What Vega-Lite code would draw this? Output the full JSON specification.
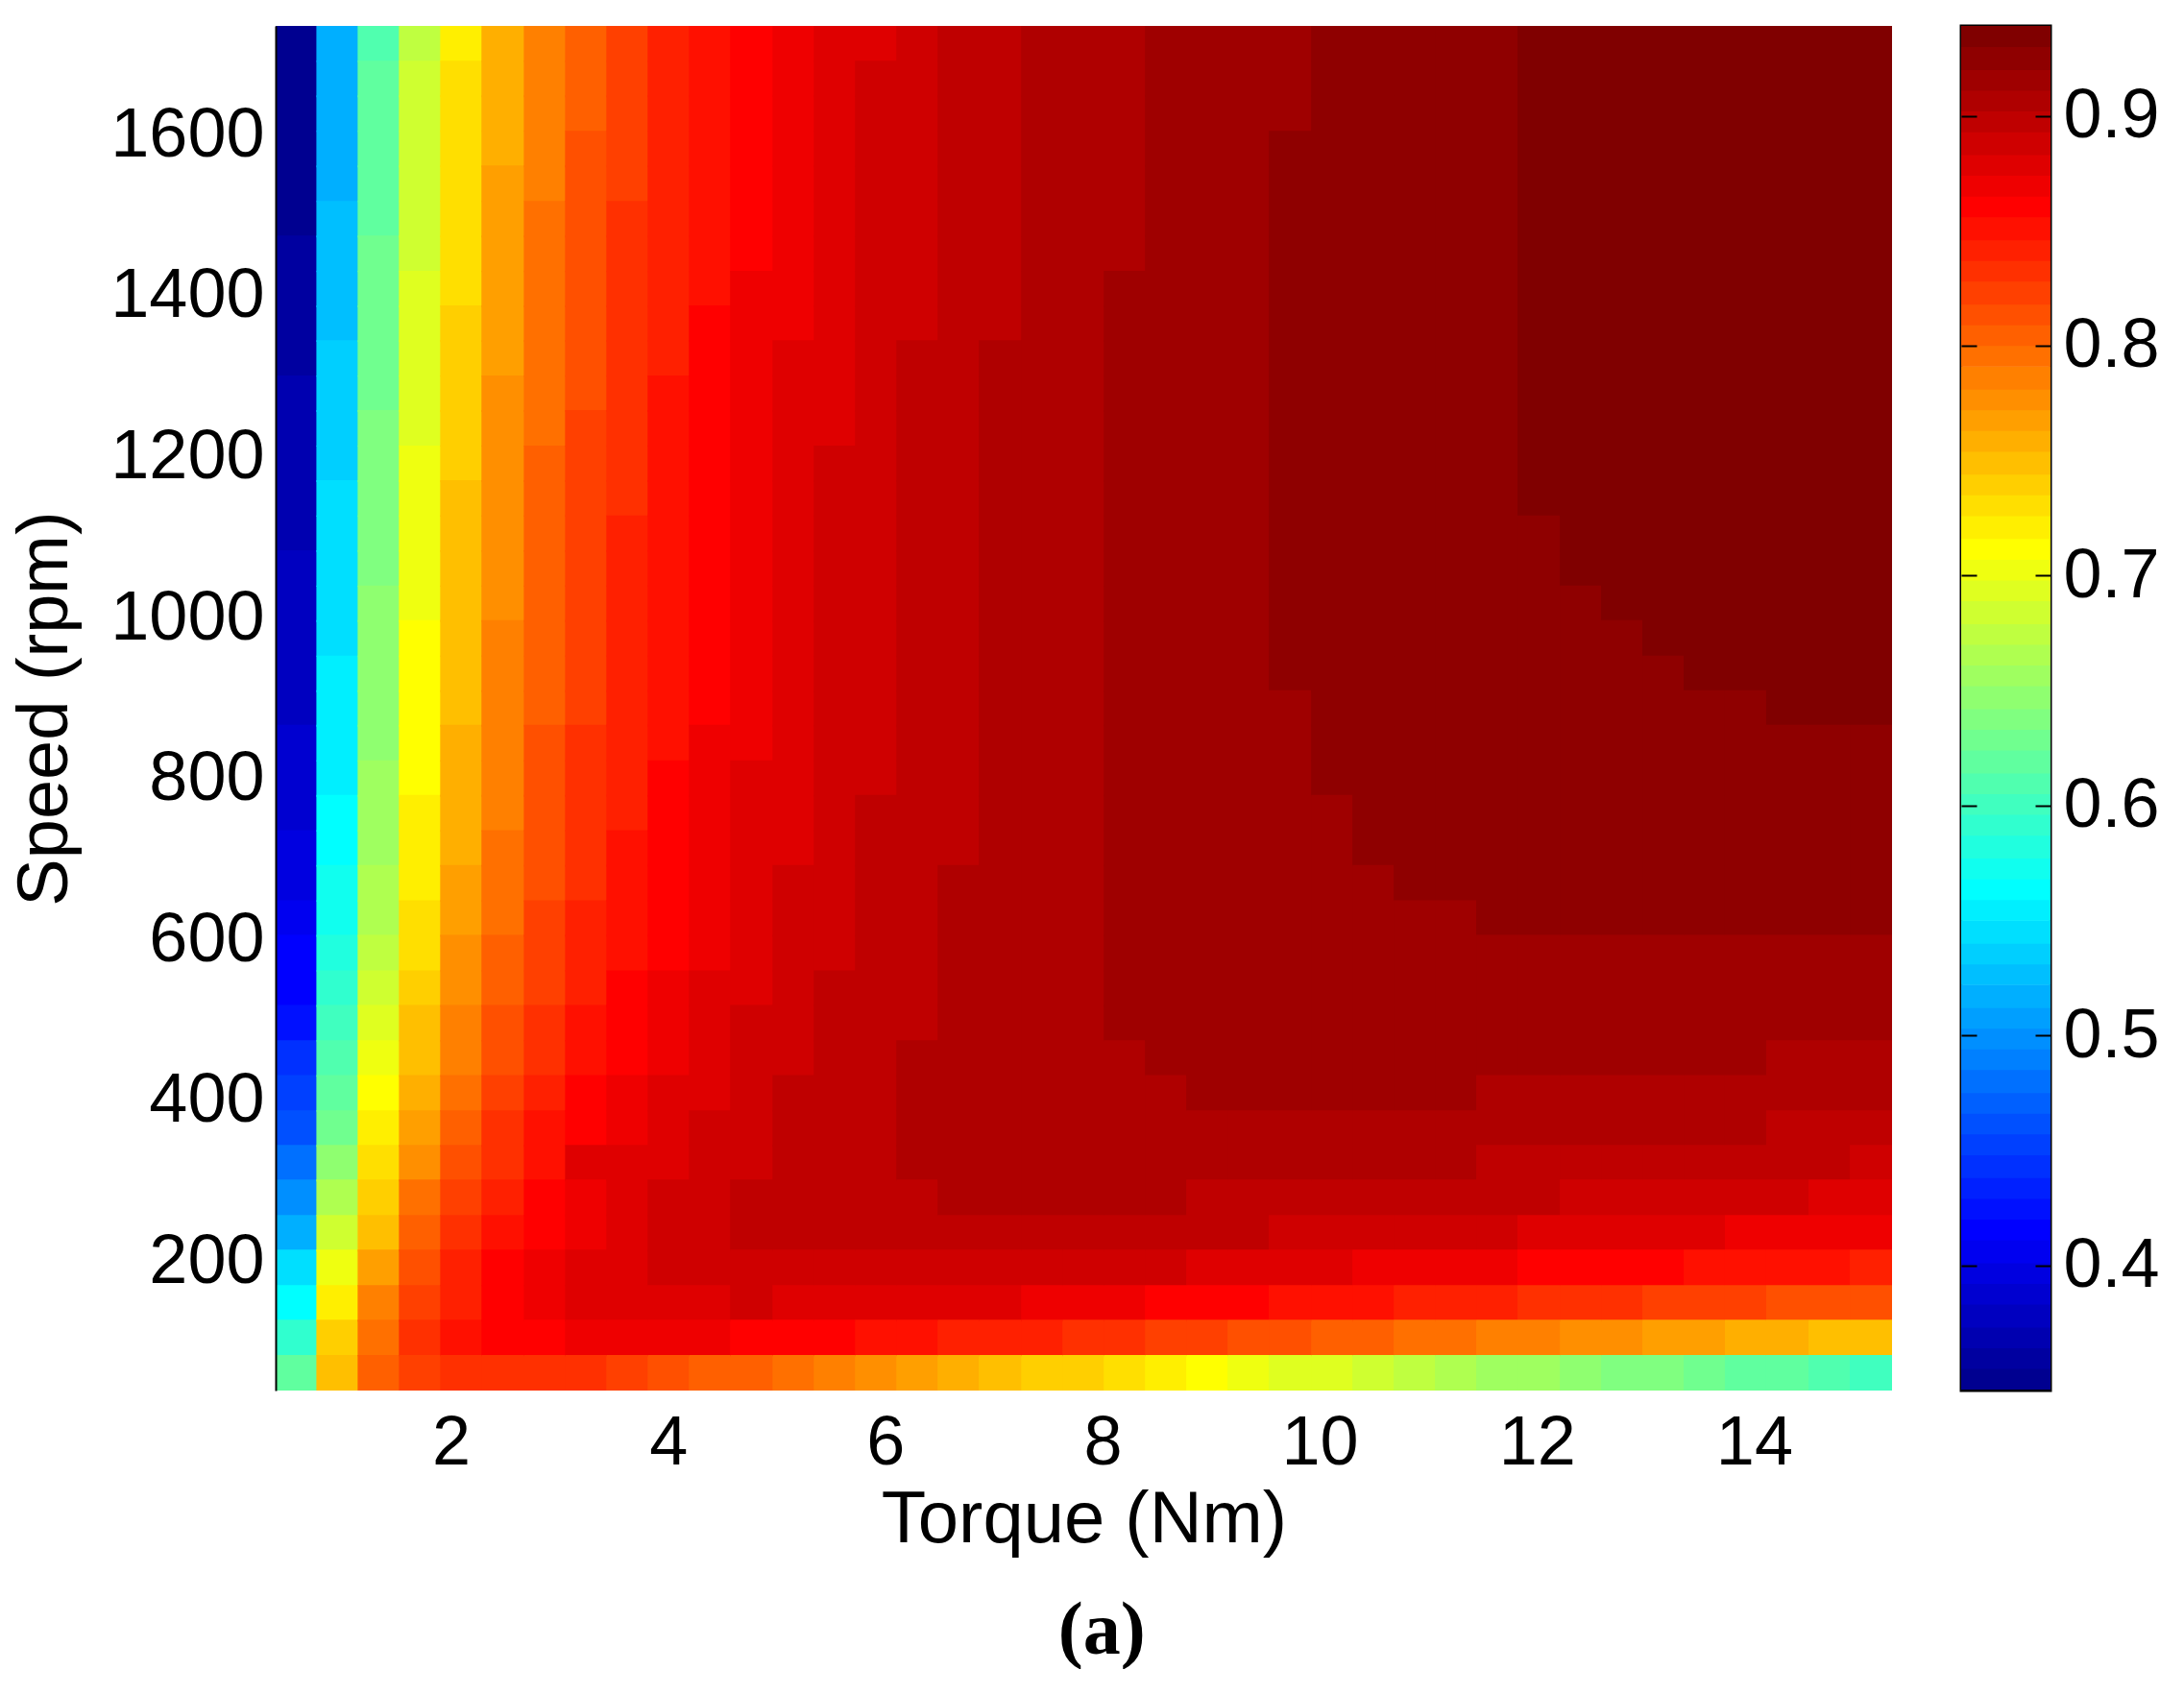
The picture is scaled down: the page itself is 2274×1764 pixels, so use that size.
{"$schema":"https://vega.github.io/schema/vega-lite/v6.json","background":"white","padding":{"left":10,"top":23,"right":0,"bottom":0},"spacing":69,"config":{"view":{"stroke":null},"axis":{"grid":false,"ticks":false,"labelFont":"Liberation Sans","titleFont":"Liberation Sans","labelFontSize":72,"titleFontSize":74,"titleFontWeight":"normal","labelColor":"black","titleColor":"black","labelLimit":400}},"title":{"text":"(a)","orient":"bottom","anchor":"start","font":"Liberation Serif","fontWeight":"bold","fontSize":78,"offset":40,"dx":1091,"color":"black"},"datasets":{"cells":[
{"t":0.58,"s":1713,"e":0.351},{"t":0.58,"s":1669,"e":0.351},{"t":0.58,"s":1626,"e":0.351},{"t":0.58,"s":1582,"e":0.351},{"t":0.58,"s":1539,"e":0.351},{"t":0.58,"s":1495,"e":0.351},{"t":0.58,"s":1452,"e":0.36},{"t":0.58,"s":1408,"e":0.36},{"t":0.58,"s":1365,"e":0.36},{"t":0.58,"s":1322,"e":0.36},{"t":0.58,"s":1278,"e":0.369},{"t":0.58,"s":1235,"e":0.369},{"t":0.58,"s":1191,"e":0.369},{"t":0.58,"s":1148,"e":0.369},{"t":0.58,"s":1104,"e":0.369},{"t":0.58,"s":1061,"e":0.378},{"t":0.58,"s":1017,"e":0.378},{"t":0.58,"s":974,"e":0.378},{"t":0.58,"s":930,"e":0.378},{"t":0.58,"s":887,"e":0.378},{"t":0.58,"s":844,"e":0.388},{"t":0.58,"s":800,"e":0.388},{"t":0.58,"s":757,"e":0.388},{"t":0.58,"s":713,"e":0.397},{"t":0.58,"s":670,"e":0.397},{"t":0.58,"s":626,"e":0.406},{"t":0.58,"s":583,"e":0.416},{"t":0.58,"s":539,"e":0.416},{"t":0.58,"s":496,"e":0.425},{"t":0.58,"s":452,"e":0.443},{"t":0.58,"s":409,"e":0.453},{"t":0.58,"s":365,"e":0.462},{"t":0.58,"s":322,"e":0.48},{"t":0.58,"s":279,"e":0.499},{"t":0.58,"s":235,"e":0.517},{"t":0.58,"s":192,"e":0.545},{"t":0.58,"s":148,"e":0.564},{"t":0.58,"s":105,"e":0.592},{"t":0.58,"s":61,"e":0.619},
{"t":0.96,"s":1713,"e":0.517},{"t":0.96,"s":1669,"e":0.517},{"t":0.96,"s":1626,"e":0.517},{"t":0.96,"s":1582,"e":0.517},{"t":0.96,"s":1539,"e":0.517},{"t":0.96,"s":1495,"e":0.527},{"t":0.96,"s":1452,"e":0.527},{"t":0.96,"s":1408,"e":0.527},{"t":0.96,"s":1365,"e":0.527},{"t":0.96,"s":1322,"e":0.536},{"t":0.96,"s":1278,"e":0.536},{"t":0.96,"s":1235,"e":0.536},{"t":0.96,"s":1191,"e":0.536},{"t":0.96,"s":1148,"e":0.545},{"t":0.96,"s":1104,"e":0.545},{"t":0.96,"s":1061,"e":0.545},{"t":0.96,"s":1017,"e":0.545},{"t":0.96,"s":974,"e":0.545},{"t":0.96,"s":930,"e":0.555},{"t":0.96,"s":887,"e":0.555},{"t":0.96,"s":844,"e":0.555},{"t":0.96,"s":800,"e":0.555},{"t":0.96,"s":757,"e":0.564},{"t":0.96,"s":713,"e":0.564},{"t":0.96,"s":670,"e":0.573},{"t":0.96,"s":626,"e":0.573},{"t":0.96,"s":583,"e":0.582},{"t":0.96,"s":539,"e":0.592},{"t":0.96,"s":496,"e":0.601},{"t":0.96,"s":452,"e":0.61},{"t":0.96,"s":409,"e":0.619},{"t":0.96,"s":365,"e":0.629},{"t":0.96,"s":322,"e":0.647},{"t":0.96,"s":279,"e":0.666},{"t":0.96,"s":235,"e":0.684},{"t":0.96,"s":192,"e":0.703},{"t":0.96,"s":148,"e":0.721},{"t":0.96,"s":105,"e":0.74},{"t":0.96,"s":61,"e":0.749},
{"t":1.34,"s":1713,"e":0.61},{"t":1.34,"s":1669,"e":0.619},{"t":1.34,"s":1626,"e":0.619},{"t":1.34,"s":1582,"e":0.619},{"t":1.34,"s":1539,"e":0.619},{"t":1.34,"s":1495,"e":0.619},{"t":1.34,"s":1452,"e":0.629},{"t":1.34,"s":1408,"e":0.629},{"t":1.34,"s":1365,"e":0.629},{"t":1.34,"s":1322,"e":0.629},{"t":1.34,"s":1278,"e":0.629},{"t":1.34,"s":1235,"e":0.638},{"t":1.34,"s":1191,"e":0.638},{"t":1.34,"s":1148,"e":0.638},{"t":1.34,"s":1104,"e":0.638},{"t":1.34,"s":1061,"e":0.638},{"t":1.34,"s":1017,"e":0.647},{"t":1.34,"s":974,"e":0.647},{"t":1.34,"s":930,"e":0.647},{"t":1.34,"s":887,"e":0.647},{"t":1.34,"s":844,"e":0.647},{"t":1.34,"s":800,"e":0.657},{"t":1.34,"s":757,"e":0.657},{"t":1.34,"s":713,"e":0.657},{"t":1.34,"s":670,"e":0.666},{"t":1.34,"s":626,"e":0.666},{"t":1.34,"s":583,"e":0.675},{"t":1.34,"s":539,"e":0.684},{"t":1.34,"s":496,"e":0.694},{"t":1.34,"s":452,"e":0.703},{"t":1.34,"s":409,"e":0.712},{"t":1.34,"s":365,"e":0.721},{"t":1.34,"s":322,"e":0.731},{"t":1.34,"s":279,"e":0.74},{"t":1.34,"s":235,"e":0.749},{"t":1.34,"s":192,"e":0.768},{"t":1.34,"s":148,"e":0.786},{"t":1.34,"s":105,"e":0.796},{"t":1.34,"s":61,"e":0.805},
{"t":1.72,"s":1713,"e":0.675},{"t":1.72,"s":1669,"e":0.684},{"t":1.72,"s":1626,"e":0.684},{"t":1.72,"s":1582,"e":0.684},{"t":1.72,"s":1539,"e":0.684},{"t":1.72,"s":1495,"e":0.684},{"t":1.72,"s":1452,"e":0.684},{"t":1.72,"s":1408,"e":0.694},{"t":1.72,"s":1365,"e":0.694},{"t":1.72,"s":1322,"e":0.694},{"t":1.72,"s":1278,"e":0.694},{"t":1.72,"s":1235,"e":0.694},{"t":1.72,"s":1191,"e":0.703},{"t":1.72,"s":1148,"e":0.703},{"t":1.72,"s":1104,"e":0.703},{"t":1.72,"s":1061,"e":0.703},{"t":1.72,"s":1017,"e":0.703},{"t":1.72,"s":974,"e":0.712},{"t":1.72,"s":930,"e":0.712},{"t":1.72,"s":887,"e":0.712},{"t":1.72,"s":844,"e":0.712},{"t":1.72,"s":800,"e":0.712},{"t":1.72,"s":757,"e":0.721},{"t":1.72,"s":713,"e":0.721},{"t":1.72,"s":670,"e":0.721},{"t":1.72,"s":626,"e":0.731},{"t":1.72,"s":583,"e":0.731},{"t":1.72,"s":539,"e":0.74},{"t":1.72,"s":496,"e":0.749},{"t":1.72,"s":452,"e":0.749},{"t":1.72,"s":409,"e":0.759},{"t":1.72,"s":365,"e":0.768},{"t":1.72,"s":322,"e":0.777},{"t":1.72,"s":279,"e":0.796},{"t":1.72,"s":235,"e":0.805},{"t":1.72,"s":192,"e":0.814},{"t":1.72,"s":148,"e":0.823},{"t":1.72,"s":105,"e":0.833},{"t":1.72,"s":61,"e":0.823},
{"t":2.1,"s":1713,"e":0.721},{"t":2.1,"s":1669,"e":0.731},{"t":2.1,"s":1626,"e":0.731},{"t":2.1,"s":1582,"e":0.731},{"t":2.1,"s":1539,"e":0.731},{"t":2.1,"s":1495,"e":0.731},{"t":2.1,"s":1452,"e":0.731},{"t":2.1,"s":1408,"e":0.731},{"t":2.1,"s":1365,"e":0.74},{"t":2.1,"s":1322,"e":0.74},{"t":2.1,"s":1278,"e":0.74},{"t":2.1,"s":1235,"e":0.74},{"t":2.1,"s":1191,"e":0.74},{"t":2.1,"s":1148,"e":0.749},{"t":2.1,"s":1104,"e":0.749},{"t":2.1,"s":1061,"e":0.749},{"t":2.1,"s":1017,"e":0.749},{"t":2.1,"s":974,"e":0.749},{"t":2.1,"s":930,"e":0.749},{"t":2.1,"s":887,"e":0.749},{"t":2.1,"s":844,"e":0.759},{"t":2.1,"s":800,"e":0.759},{"t":2.1,"s":757,"e":0.759},{"t":2.1,"s":713,"e":0.759},{"t":2.1,"s":670,"e":0.768},{"t":2.1,"s":626,"e":0.768},{"t":2.1,"s":583,"e":0.777},{"t":2.1,"s":539,"e":0.777},{"t":2.1,"s":496,"e":0.786},{"t":2.1,"s":452,"e":0.786},{"t":2.1,"s":409,"e":0.796},{"t":2.1,"s":365,"e":0.805},{"t":2.1,"s":322,"e":0.814},{"t":2.1,"s":279,"e":0.823},{"t":2.1,"s":235,"e":0.833},{"t":2.1,"s":192,"e":0.842},{"t":2.1,"s":148,"e":0.842},{"t":2.1,"s":105,"e":0.851},{"t":2.1,"s":61,"e":0.833},
{"t":2.48,"s":1713,"e":0.759},{"t":2.48,"s":1669,"e":0.759},{"t":2.48,"s":1626,"e":0.759},{"t":2.48,"s":1582,"e":0.759},{"t":2.48,"s":1539,"e":0.768},{"t":2.48,"s":1495,"e":0.768},{"t":2.48,"s":1452,"e":0.768},{"t":2.48,"s":1408,"e":0.768},{"t":2.48,"s":1365,"e":0.768},{"t":2.48,"s":1322,"e":0.768},{"t":2.48,"s":1278,"e":0.777},{"t":2.48,"s":1235,"e":0.777},{"t":2.48,"s":1191,"e":0.777},{"t":2.48,"s":1148,"e":0.777},{"t":2.48,"s":1104,"e":0.777},{"t":2.48,"s":1061,"e":0.777},{"t":2.48,"s":1017,"e":0.777},{"t":2.48,"s":974,"e":0.786},{"t":2.48,"s":930,"e":0.786},{"t":2.48,"s":887,"e":0.786},{"t":2.48,"s":844,"e":0.786},{"t":2.48,"s":800,"e":0.786},{"t":2.48,"s":757,"e":0.786},{"t":2.48,"s":713,"e":0.796},{"t":2.48,"s":670,"e":0.796},{"t":2.48,"s":626,"e":0.796},{"t":2.48,"s":583,"e":0.805},{"t":2.48,"s":539,"e":0.805},{"t":2.48,"s":496,"e":0.814},{"t":2.48,"s":452,"e":0.814},{"t":2.48,"s":409,"e":0.823},{"t":2.48,"s":365,"e":0.833},{"t":2.48,"s":322,"e":0.833},{"t":2.48,"s":279,"e":0.842},{"t":2.48,"s":235,"e":0.851},{"t":2.48,"s":192,"e":0.861},{"t":2.48,"s":148,"e":0.861},{"t":2.48,"s":105,"e":0.861},{"t":2.48,"s":61,"e":0.833},
{"t":2.87,"s":1713,"e":0.786},{"t":2.87,"s":1669,"e":0.786},{"t":2.87,"s":1626,"e":0.786},{"t":2.87,"s":1582,"e":0.786},{"t":2.87,"s":1539,"e":0.786},{"t":2.87,"s":1495,"e":0.796},{"t":2.87,"s":1452,"e":0.796},{"t":2.87,"s":1408,"e":0.796},{"t":2.87,"s":1365,"e":0.796},{"t":2.87,"s":1322,"e":0.796},{"t":2.87,"s":1278,"e":0.796},{"t":2.87,"s":1235,"e":0.796},{"t":2.87,"s":1191,"e":0.805},{"t":2.87,"s":1148,"e":0.805},{"t":2.87,"s":1104,"e":0.805},{"t":2.87,"s":1061,"e":0.805},{"t":2.87,"s":1017,"e":0.805},{"t":2.87,"s":974,"e":0.805},{"t":2.87,"s":930,"e":0.805},{"t":2.87,"s":887,"e":0.805},{"t":2.87,"s":844,"e":0.814},{"t":2.87,"s":800,"e":0.814},{"t":2.87,"s":757,"e":0.814},{"t":2.87,"s":713,"e":0.814},{"t":2.87,"s":670,"e":0.814},{"t":2.87,"s":626,"e":0.823},{"t":2.87,"s":583,"e":0.823},{"t":2.87,"s":539,"e":0.823},{"t":2.87,"s":496,"e":0.833},{"t":2.87,"s":452,"e":0.833},{"t":2.87,"s":409,"e":0.842},{"t":2.87,"s":365,"e":0.851},{"t":2.87,"s":322,"e":0.851},{"t":2.87,"s":279,"e":0.861},{"t":2.87,"s":235,"e":0.861},{"t":2.87,"s":192,"e":0.87},{"t":2.87,"s":148,"e":0.87},{"t":2.87,"s":105,"e":0.861},{"t":2.87,"s":61,"e":0.833},
{"t":3.25,"s":1713,"e":0.805},{"t":3.25,"s":1669,"e":0.805},{"t":3.25,"s":1626,"e":0.805},{"t":3.25,"s":1582,"e":0.814},{"t":3.25,"s":1539,"e":0.814},{"t":3.25,"s":1495,"e":0.814},{"t":3.25,"s":1452,"e":0.814},{"t":3.25,"s":1408,"e":0.814},{"t":3.25,"s":1365,"e":0.814},{"t":3.25,"s":1322,"e":0.814},{"t":3.25,"s":1278,"e":0.814},{"t":3.25,"s":1235,"e":0.823},{"t":3.25,"s":1191,"e":0.823},{"t":3.25,"s":1148,"e":0.823},{"t":3.25,"s":1104,"e":0.823},{"t":3.25,"s":1061,"e":0.823},{"t":3.25,"s":1017,"e":0.823},{"t":3.25,"s":974,"e":0.823},{"t":3.25,"s":930,"e":0.823},{"t":3.25,"s":887,"e":0.823},{"t":3.25,"s":844,"e":0.833},{"t":3.25,"s":800,"e":0.833},{"t":3.25,"s":757,"e":0.833},{"t":3.25,"s":713,"e":0.833},{"t":3.25,"s":670,"e":0.833},{"t":3.25,"s":626,"e":0.842},{"t":3.25,"s":583,"e":0.842},{"t":3.25,"s":539,"e":0.842},{"t":3.25,"s":496,"e":0.851},{"t":3.25,"s":452,"e":0.851},{"t":3.25,"s":409,"e":0.861},{"t":3.25,"s":365,"e":0.861},{"t":3.25,"s":322,"e":0.879},{"t":3.25,"s":279,"e":0.87},{"t":3.25,"s":235,"e":0.87},{"t":3.25,"s":192,"e":0.879},{"t":3.25,"s":148,"e":0.879},{"t":3.25,"s":105,"e":0.87},{"t":3.25,"s":61,"e":0.833},
{"t":3.63,"s":1713,"e":0.823},{"t":3.63,"s":1669,"e":0.823},{"t":3.63,"s":1626,"e":0.823},{"t":3.63,"s":1582,"e":0.823},{"t":3.63,"s":1539,"e":0.823},{"t":3.63,"s":1495,"e":0.833},{"t":3.63,"s":1452,"e":0.833},{"t":3.63,"s":1408,"e":0.833},{"t":3.63,"s":1365,"e":0.833},{"t":3.63,"s":1322,"e":0.833},{"t":3.63,"s":1278,"e":0.833},{"t":3.63,"s":1235,"e":0.833},{"t":3.63,"s":1191,"e":0.833},{"t":3.63,"s":1148,"e":0.833},{"t":3.63,"s":1104,"e":0.842},{"t":3.63,"s":1061,"e":0.842},{"t":3.63,"s":1017,"e":0.842},{"t":3.63,"s":974,"e":0.842},{"t":3.63,"s":930,"e":0.842},{"t":3.63,"s":887,"e":0.842},{"t":3.63,"s":844,"e":0.842},{"t":3.63,"s":800,"e":0.842},{"t":3.63,"s":757,"e":0.842},{"t":3.63,"s":713,"e":0.851},{"t":3.63,"s":670,"e":0.851},{"t":3.63,"s":626,"e":0.851},{"t":3.63,"s":583,"e":0.851},{"t":3.63,"s":539,"e":0.861},{"t":3.63,"s":496,"e":0.861},{"t":3.63,"s":452,"e":0.861},{"t":3.63,"s":409,"e":0.87},{"t":3.63,"s":365,"e":0.87},{"t":3.63,"s":322,"e":0.879},{"t":3.63,"s":279,"e":0.879},{"t":3.63,"s":235,"e":0.879},{"t":3.63,"s":192,"e":0.879},{"t":3.63,"s":148,"e":0.879},{"t":3.63,"s":105,"e":0.87},{"t":3.63,"s":61,"e":0.823},
{"t":4.01,"s":1713,"e":0.842},{"t":4.01,"s":1669,"e":0.842},{"t":4.01,"s":1626,"e":0.842},{"t":4.01,"s":1582,"e":0.842},{"t":4.01,"s":1539,"e":0.842},{"t":4.01,"s":1495,"e":0.842},{"t":4.01,"s":1452,"e":0.842},{"t":4.01,"s":1408,"e":0.842},{"t":4.01,"s":1365,"e":0.842},{"t":4.01,"s":1322,"e":0.842},{"t":4.01,"s":1278,"e":0.851},{"t":4.01,"s":1235,"e":0.851},{"t":4.01,"s":1191,"e":0.851},{"t":4.01,"s":1148,"e":0.851},{"t":4.01,"s":1104,"e":0.851},{"t":4.01,"s":1061,"e":0.851},{"t":4.01,"s":1017,"e":0.851},{"t":4.01,"s":974,"e":0.851},{"t":4.01,"s":930,"e":0.851},{"t":4.01,"s":887,"e":0.851},{"t":4.01,"s":844,"e":0.851},{"t":4.01,"s":800,"e":0.861},{"t":4.01,"s":757,"e":0.861},{"t":4.01,"s":713,"e":0.861},{"t":4.01,"s":670,"e":0.861},{"t":4.01,"s":626,"e":0.861},{"t":4.01,"s":583,"e":0.861},{"t":4.01,"s":539,"e":0.87},{"t":4.01,"s":496,"e":0.87},{"t":4.01,"s":452,"e":0.87},{"t":4.01,"s":409,"e":0.879},{"t":4.01,"s":365,"e":0.879},{"t":4.01,"s":322,"e":0.879},{"t":4.01,"s":279,"e":0.888},{"t":4.01,"s":235,"e":0.888},{"t":4.01,"s":192,"e":0.888},{"t":4.01,"s":148,"e":0.879},{"t":4.01,"s":105,"e":0.87},{"t":4.01,"s":61,"e":0.814},
{"t":4.39,"s":1713,"e":0.851},{"t":4.39,"s":1669,"e":0.851},{"t":4.39,"s":1626,"e":0.851},{"t":4.39,"s":1582,"e":0.851},{"t":4.39,"s":1539,"e":0.851},{"t":4.39,"s":1495,"e":0.851},{"t":4.39,"s":1452,"e":0.851},{"t":4.39,"s":1408,"e":0.851},{"t":4.39,"s":1365,"e":0.861},{"t":4.39,"s":1322,"e":0.861},{"t":4.39,"s":1278,"e":0.861},{"t":4.39,"s":1235,"e":0.861},{"t":4.39,"s":1191,"e":0.861},{"t":4.39,"s":1148,"e":0.861},{"t":4.39,"s":1104,"e":0.861},{"t":4.39,"s":1061,"e":0.861},{"t":4.39,"s":1017,"e":0.861},{"t":4.39,"s":974,"e":0.861},{"t":4.39,"s":930,"e":0.861},{"t":4.39,"s":887,"e":0.861},{"t":4.39,"s":844,"e":0.87},{"t":4.39,"s":800,"e":0.87},{"t":4.39,"s":757,"e":0.87},{"t":4.39,"s":713,"e":0.87},{"t":4.39,"s":670,"e":0.87},{"t":4.39,"s":626,"e":0.87},{"t":4.39,"s":583,"e":0.87},{"t":4.39,"s":539,"e":0.879},{"t":4.39,"s":496,"e":0.879},{"t":4.39,"s":452,"e":0.879},{"t":4.39,"s":409,"e":0.879},{"t":4.39,"s":365,"e":0.888},{"t":4.39,"s":322,"e":0.888},{"t":4.39,"s":279,"e":0.888},{"t":4.39,"s":235,"e":0.888},{"t":4.39,"s":192,"e":0.888},{"t":4.39,"s":148,"e":0.879},{"t":4.39,"s":105,"e":0.87},{"t":4.39,"s":61,"e":0.805},
{"t":4.77,"s":1713,"e":0.861},{"t":4.77,"s":1669,"e":0.861},{"t":4.77,"s":1626,"e":0.861},{"t":4.77,"s":1582,"e":0.861},{"t":4.77,"s":1539,"e":0.861},{"t":4.77,"s":1495,"e":0.861},{"t":4.77,"s":1452,"e":0.861},{"t":4.77,"s":1408,"e":0.87},{"t":4.77,"s":1365,"e":0.87},{"t":4.77,"s":1322,"e":0.87},{"t":4.77,"s":1278,"e":0.87},{"t":4.77,"s":1235,"e":0.87},{"t":4.77,"s":1191,"e":0.87},{"t":4.77,"s":1148,"e":0.87},{"t":4.77,"s":1104,"e":0.87},{"t":4.77,"s":1061,"e":0.87},{"t":4.77,"s":1017,"e":0.87},{"t":4.77,"s":974,"e":0.87},{"t":4.77,"s":930,"e":0.87},{"t":4.77,"s":887,"e":0.87},{"t":4.77,"s":844,"e":0.87},{"t":4.77,"s":800,"e":0.879},{"t":4.77,"s":757,"e":0.879},{"t":4.77,"s":713,"e":0.879},{"t":4.77,"s":670,"e":0.879},{"t":4.77,"s":626,"e":0.879},{"t":4.77,"s":583,"e":0.879},{"t":4.77,"s":539,"e":0.879},{"t":4.77,"s":496,"e":0.888},{"t":4.77,"s":452,"e":0.888},{"t":4.77,"s":409,"e":0.888},{"t":4.77,"s":365,"e":0.888},{"t":4.77,"s":322,"e":0.888},{"t":4.77,"s":279,"e":0.898},{"t":4.77,"s":235,"e":0.898},{"t":4.77,"s":192,"e":0.888},{"t":4.77,"s":148,"e":0.888},{"t":4.77,"s":105,"e":0.861},{"t":4.77,"s":61,"e":0.805},
{"t":5.16,"s":1713,"e":0.87},{"t":5.16,"s":1669,"e":0.87},{"t":5.16,"s":1626,"e":0.87},{"t":5.16,"s":1582,"e":0.87},{"t":5.16,"s":1539,"e":0.87},{"t":5.16,"s":1495,"e":0.87},{"t":5.16,"s":1452,"e":0.87},{"t":5.16,"s":1408,"e":0.87},{"t":5.16,"s":1365,"e":0.87},{"t":5.16,"s":1322,"e":0.879},{"t":5.16,"s":1278,"e":0.879},{"t":5.16,"s":1235,"e":0.879},{"t":5.16,"s":1191,"e":0.879},{"t":5.16,"s":1148,"e":0.879},{"t":5.16,"s":1104,"e":0.879},{"t":5.16,"s":1061,"e":0.879},{"t":5.16,"s":1017,"e":0.879},{"t":5.16,"s":974,"e":0.879},{"t":5.16,"s":930,"e":0.879},{"t":5.16,"s":887,"e":0.879},{"t":5.16,"s":844,"e":0.879},{"t":5.16,"s":800,"e":0.879},{"t":5.16,"s":757,"e":0.879},{"t":5.16,"s":713,"e":0.879},{"t":5.16,"s":670,"e":0.888},{"t":5.16,"s":626,"e":0.888},{"t":5.16,"s":583,"e":0.888},{"t":5.16,"s":539,"e":0.888},{"t":5.16,"s":496,"e":0.888},{"t":5.16,"s":452,"e":0.888},{"t":5.16,"s":409,"e":0.898},{"t":5.16,"s":365,"e":0.898},{"t":5.16,"s":322,"e":0.898},{"t":5.16,"s":279,"e":0.898},{"t":5.16,"s":235,"e":0.898},{"t":5.16,"s":192,"e":0.888},{"t":5.16,"s":148,"e":0.879},{"t":5.16,"s":105,"e":0.861},{"t":5.16,"s":61,"e":0.796},
{"t":5.54,"s":1713,"e":0.879},{"t":5.54,"s":1669,"e":0.879},{"t":5.54,"s":1626,"e":0.879},{"t":5.54,"s":1582,"e":0.879},{"t":5.54,"s":1539,"e":0.879},{"t":5.54,"s":1495,"e":0.879},{"t":5.54,"s":1452,"e":0.879},{"t":5.54,"s":1408,"e":0.879},{"t":5.54,"s":1365,"e":0.879},{"t":5.54,"s":1322,"e":0.879},{"t":5.54,"s":1278,"e":0.879},{"t":5.54,"s":1235,"e":0.879},{"t":5.54,"s":1191,"e":0.888},{"t":5.54,"s":1148,"e":0.888},{"t":5.54,"s":1104,"e":0.888},{"t":5.54,"s":1061,"e":0.888},{"t":5.54,"s":1017,"e":0.888},{"t":5.54,"s":974,"e":0.888},{"t":5.54,"s":930,"e":0.888},{"t":5.54,"s":887,"e":0.888},{"t":5.54,"s":844,"e":0.888},{"t":5.54,"s":800,"e":0.888},{"t":5.54,"s":757,"e":0.888},{"t":5.54,"s":713,"e":0.888},{"t":5.54,"s":670,"e":0.888},{"t":5.54,"s":626,"e":0.888},{"t":5.54,"s":583,"e":0.888},{"t":5.54,"s":539,"e":0.898},{"t":5.54,"s":496,"e":0.898},{"t":5.54,"s":452,"e":0.898},{"t":5.54,"s":409,"e":0.898},{"t":5.54,"s":365,"e":0.898},{"t":5.54,"s":322,"e":0.898},{"t":5.54,"s":279,"e":0.898},{"t":5.54,"s":235,"e":0.898},{"t":5.54,"s":192,"e":0.888},{"t":5.54,"s":148,"e":0.879},{"t":5.54,"s":105,"e":0.861},{"t":5.54,"s":61,"e":0.786},
{"t":5.92,"s":1713,"e":0.879},{"t":5.92,"s":1669,"e":0.888},{"t":5.92,"s":1626,"e":0.888},{"t":5.92,"s":1582,"e":0.888},{"t":5.92,"s":1539,"e":0.888},{"t":5.92,"s":1495,"e":0.888},{"t":5.92,"s":1452,"e":0.888},{"t":5.92,"s":1408,"e":0.888},{"t":5.92,"s":1365,"e":0.888},{"t":5.92,"s":1322,"e":0.888},{"t":5.92,"s":1278,"e":0.888},{"t":5.92,"s":1235,"e":0.888},{"t":5.92,"s":1191,"e":0.888},{"t":5.92,"s":1148,"e":0.888},{"t":5.92,"s":1104,"e":0.888},{"t":5.92,"s":1061,"e":0.888},{"t":5.92,"s":1017,"e":0.888},{"t":5.92,"s":974,"e":0.888},{"t":5.92,"s":930,"e":0.888},{"t":5.92,"s":887,"e":0.888},{"t":5.92,"s":844,"e":0.888},{"t":5.92,"s":800,"e":0.888},{"t":5.92,"s":757,"e":0.898},{"t":5.92,"s":713,"e":0.898},{"t":5.92,"s":670,"e":0.898},{"t":5.92,"s":626,"e":0.898},{"t":5.92,"s":583,"e":0.898},{"t":5.92,"s":539,"e":0.898},{"t":5.92,"s":496,"e":0.898},{"t":5.92,"s":452,"e":0.898},{"t":5.92,"s":409,"e":0.898},{"t":5.92,"s":365,"e":0.898},{"t":5.92,"s":322,"e":0.898},{"t":5.92,"s":279,"e":0.898},{"t":5.92,"s":235,"e":0.898},{"t":5.92,"s":192,"e":0.888},{"t":5.92,"s":148,"e":0.879},{"t":5.92,"s":105,"e":0.851},{"t":5.92,"s":61,"e":0.777},
{"t":6.3,"s":1713,"e":0.888},{"t":6.3,"s":1669,"e":0.888},{"t":6.3,"s":1626,"e":0.888},{"t":6.3,"s":1582,"e":0.888},{"t":6.3,"s":1539,"e":0.888},{"t":6.3,"s":1495,"e":0.888},{"t":6.3,"s":1452,"e":0.888},{"t":6.3,"s":1408,"e":0.888},{"t":6.3,"s":1365,"e":0.888},{"t":6.3,"s":1322,"e":0.898},{"t":6.3,"s":1278,"e":0.898},{"t":6.3,"s":1235,"e":0.898},{"t":6.3,"s":1191,"e":0.898},{"t":6.3,"s":1148,"e":0.898},{"t":6.3,"s":1104,"e":0.898},{"t":6.3,"s":1061,"e":0.898},{"t":6.3,"s":1017,"e":0.898},{"t":6.3,"s":974,"e":0.898},{"t":6.3,"s":930,"e":0.898},{"t":6.3,"s":887,"e":0.898},{"t":6.3,"s":844,"e":0.898},{"t":6.3,"s":800,"e":0.898},{"t":6.3,"s":757,"e":0.898},{"t":6.3,"s":713,"e":0.898},{"t":6.3,"s":670,"e":0.898},{"t":6.3,"s":626,"e":0.898},{"t":6.3,"s":583,"e":0.898},{"t":6.3,"s":539,"e":0.898},{"t":6.3,"s":496,"e":0.898},{"t":6.3,"s":452,"e":0.907},{"t":6.3,"s":409,"e":0.907},{"t":6.3,"s":365,"e":0.907},{"t":6.3,"s":322,"e":0.907},{"t":6.3,"s":279,"e":0.898},{"t":6.3,"s":235,"e":0.898},{"t":6.3,"s":192,"e":0.888},{"t":6.3,"s":148,"e":0.879},{"t":6.3,"s":105,"e":0.851},{"t":6.3,"s":61,"e":0.768},
{"t":6.68,"s":1713,"e":0.898},{"t":6.68,"s":1669,"e":0.898},{"t":6.68,"s":1626,"e":0.898},{"t":6.68,"s":1582,"e":0.898},{"t":6.68,"s":1539,"e":0.898},{"t":6.68,"s":1495,"e":0.898},{"t":6.68,"s":1452,"e":0.898},{"t":6.68,"s":1408,"e":0.898},{"t":6.68,"s":1365,"e":0.898},{"t":6.68,"s":1322,"e":0.898},{"t":6.68,"s":1278,"e":0.898},{"t":6.68,"s":1235,"e":0.898},{"t":6.68,"s":1191,"e":0.898},{"t":6.68,"s":1148,"e":0.898},{"t":6.68,"s":1104,"e":0.898},{"t":6.68,"s":1061,"e":0.898},{"t":6.68,"s":1017,"e":0.898},{"t":6.68,"s":974,"e":0.898},{"t":6.68,"s":930,"e":0.898},{"t":6.68,"s":887,"e":0.898},{"t":6.68,"s":844,"e":0.898},{"t":6.68,"s":800,"e":0.898},{"t":6.68,"s":757,"e":0.898},{"t":6.68,"s":713,"e":0.898},{"t":6.68,"s":670,"e":0.907},{"t":6.68,"s":626,"e":0.907},{"t":6.68,"s":583,"e":0.907},{"t":6.68,"s":539,"e":0.907},{"t":6.68,"s":496,"e":0.907},{"t":6.68,"s":452,"e":0.907},{"t":6.68,"s":409,"e":0.907},{"t":6.68,"s":365,"e":0.907},{"t":6.68,"s":322,"e":0.907},{"t":6.68,"s":279,"e":0.907},{"t":6.68,"s":235,"e":0.898},{"t":6.68,"s":192,"e":0.888},{"t":6.68,"s":148,"e":0.879},{"t":6.68,"s":105,"e":0.842},{"t":6.68,"s":61,"e":0.759},
{"t":7.06,"s":1713,"e":0.898},{"t":7.06,"s":1669,"e":0.898},{"t":7.06,"s":1626,"e":0.898},{"t":7.06,"s":1582,"e":0.898},{"t":7.06,"s":1539,"e":0.898},{"t":7.06,"s":1495,"e":0.898},{"t":7.06,"s":1452,"e":0.898},{"t":7.06,"s":1408,"e":0.898},{"t":7.06,"s":1365,"e":0.898},{"t":7.06,"s":1322,"e":0.907},{"t":7.06,"s":1278,"e":0.907},{"t":7.06,"s":1235,"e":0.907},{"t":7.06,"s":1191,"e":0.907},{"t":7.06,"s":1148,"e":0.907},{"t":7.06,"s":1104,"e":0.907},{"t":7.06,"s":1061,"e":0.907},{"t":7.06,"s":1017,"e":0.907},{"t":7.06,"s":974,"e":0.907},{"t":7.06,"s":930,"e":0.907},{"t":7.06,"s":887,"e":0.907},{"t":7.06,"s":844,"e":0.907},{"t":7.06,"s":800,"e":0.907},{"t":7.06,"s":757,"e":0.907},{"t":7.06,"s":713,"e":0.907},{"t":7.06,"s":670,"e":0.907},{"t":7.06,"s":626,"e":0.907},{"t":7.06,"s":583,"e":0.907},{"t":7.06,"s":539,"e":0.907},{"t":7.06,"s":496,"e":0.907},{"t":7.06,"s":452,"e":0.907},{"t":7.06,"s":409,"e":0.907},{"t":7.06,"s":365,"e":0.907},{"t":7.06,"s":322,"e":0.907},{"t":7.06,"s":279,"e":0.907},{"t":7.06,"s":235,"e":0.898},{"t":7.06,"s":192,"e":0.888},{"t":7.06,"s":148,"e":0.879},{"t":7.06,"s":105,"e":0.842},{"t":7.06,"s":61,"e":0.749},
{"t":7.45,"s":1713,"e":0.907},{"t":7.45,"s":1669,"e":0.907},{"t":7.45,"s":1626,"e":0.907},{"t":7.45,"s":1582,"e":0.907},{"t":7.45,"s":1539,"e":0.907},{"t":7.45,"s":1495,"e":0.907},{"t":7.45,"s":1452,"e":0.907},{"t":7.45,"s":1408,"e":0.907},{"t":7.45,"s":1365,"e":0.907},{"t":7.45,"s":1322,"e":0.907},{"t":7.45,"s":1278,"e":0.907},{"t":7.45,"s":1235,"e":0.907},{"t":7.45,"s":1191,"e":0.907},{"t":7.45,"s":1148,"e":0.907},{"t":7.45,"s":1104,"e":0.907},{"t":7.45,"s":1061,"e":0.907},{"t":7.45,"s":1017,"e":0.907},{"t":7.45,"s":974,"e":0.907},{"t":7.45,"s":930,"e":0.907},{"t":7.45,"s":887,"e":0.907},{"t":7.45,"s":844,"e":0.907},{"t":7.45,"s":800,"e":0.907},{"t":7.45,"s":757,"e":0.907},{"t":7.45,"s":713,"e":0.907},{"t":7.45,"s":670,"e":0.907},{"t":7.45,"s":626,"e":0.907},{"t":7.45,"s":583,"e":0.907},{"t":7.45,"s":539,"e":0.907},{"t":7.45,"s":496,"e":0.907},{"t":7.45,"s":452,"e":0.907},{"t":7.45,"s":409,"e":0.907},{"t":7.45,"s":365,"e":0.907},{"t":7.45,"s":322,"e":0.907},{"t":7.45,"s":279,"e":0.907},{"t":7.45,"s":235,"e":0.898},{"t":7.45,"s":192,"e":0.888},{"t":7.45,"s":148,"e":0.87},{"t":7.45,"s":105,"e":0.842},{"t":7.45,"s":61,"e":0.74},
{"t":7.83,"s":1713,"e":0.907},{"t":7.83,"s":1669,"e":0.907},{"t":7.83,"s":1626,"e":0.907},{"t":7.83,"s":1582,"e":0.907},{"t":7.83,"s":1539,"e":0.907},{"t":7.83,"s":1495,"e":0.907},{"t":7.83,"s":1452,"e":0.907},{"t":7.83,"s":1408,"e":0.907},{"t":7.83,"s":1365,"e":0.907},{"t":7.83,"s":1322,"e":0.907},{"t":7.83,"s":1278,"e":0.907},{"t":7.83,"s":1235,"e":0.907},{"t":7.83,"s":1191,"e":0.907},{"t":7.83,"s":1148,"e":0.907},{"t":7.83,"s":1104,"e":0.907},{"t":7.83,"s":1061,"e":0.907},{"t":7.83,"s":1017,"e":0.907},{"t":7.83,"s":974,"e":0.907},{"t":7.83,"s":930,"e":0.907},{"t":7.83,"s":887,"e":0.907},{"t":7.83,"s":844,"e":0.907},{"t":7.83,"s":800,"e":0.907},{"t":7.83,"s":757,"e":0.907},{"t":7.83,"s":713,"e":0.907},{"t":7.83,"s":670,"e":0.907},{"t":7.83,"s":626,"e":0.907},{"t":7.83,"s":583,"e":0.907},{"t":7.83,"s":539,"e":0.907},{"t":7.83,"s":496,"e":0.907},{"t":7.83,"s":452,"e":0.907},{"t":7.83,"s":409,"e":0.907},{"t":7.83,"s":365,"e":0.907},{"t":7.83,"s":322,"e":0.907},{"t":7.83,"s":279,"e":0.907},{"t":7.83,"s":235,"e":0.898},{"t":7.83,"s":192,"e":0.888},{"t":7.83,"s":148,"e":0.87},{"t":7.83,"s":105,"e":0.833},{"t":7.83,"s":61,"e":0.74},
{"t":8.21,"s":1713,"e":0.907},{"t":8.21,"s":1669,"e":0.907},{"t":8.21,"s":1626,"e":0.907},{"t":8.21,"s":1582,"e":0.907},{"t":8.21,"s":1539,"e":0.907},{"t":8.21,"s":1495,"e":0.907},{"t":8.21,"s":1452,"e":0.907},{"t":8.21,"s":1408,"e":0.916},{"t":8.21,"s":1365,"e":0.916},{"t":8.21,"s":1322,"e":0.916},{"t":8.21,"s":1278,"e":0.916},{"t":8.21,"s":1235,"e":0.916},{"t":8.21,"s":1191,"e":0.916},{"t":8.21,"s":1148,"e":0.916},{"t":8.21,"s":1104,"e":0.916},{"t":8.21,"s":1061,"e":0.916},{"t":8.21,"s":1017,"e":0.916},{"t":8.21,"s":974,"e":0.916},{"t":8.21,"s":930,"e":0.916},{"t":8.21,"s":887,"e":0.916},{"t":8.21,"s":844,"e":0.916},{"t":8.21,"s":800,"e":0.916},{"t":8.21,"s":757,"e":0.916},{"t":8.21,"s":713,"e":0.916},{"t":8.21,"s":670,"e":0.916},{"t":8.21,"s":626,"e":0.916},{"t":8.21,"s":583,"e":0.916},{"t":8.21,"s":539,"e":0.916},{"t":8.21,"s":496,"e":0.916},{"t":8.21,"s":452,"e":0.907},{"t":8.21,"s":409,"e":0.907},{"t":8.21,"s":365,"e":0.907},{"t":8.21,"s":322,"e":0.907},{"t":8.21,"s":279,"e":0.907},{"t":8.21,"s":235,"e":0.898},{"t":8.21,"s":192,"e":0.888},{"t":8.21,"s":148,"e":0.87},{"t":8.21,"s":105,"e":0.833},{"t":8.21,"s":61,"e":0.731},
{"t":8.59,"s":1713,"e":0.916},{"t":8.59,"s":1669,"e":0.916},{"t":8.59,"s":1626,"e":0.916},{"t":8.59,"s":1582,"e":0.916},{"t":8.59,"s":1539,"e":0.916},{"t":8.59,"s":1495,"e":0.916},{"t":8.59,"s":1452,"e":0.916},{"t":8.59,"s":1408,"e":0.916},{"t":8.59,"s":1365,"e":0.916},{"t":8.59,"s":1322,"e":0.916},{"t":8.59,"s":1278,"e":0.916},{"t":8.59,"s":1235,"e":0.916},{"t":8.59,"s":1191,"e":0.916},{"t":8.59,"s":1148,"e":0.916},{"t":8.59,"s":1104,"e":0.916},{"t":8.59,"s":1061,"e":0.916},{"t":8.59,"s":1017,"e":0.916},{"t":8.59,"s":974,"e":0.916},{"t":8.59,"s":930,"e":0.916},{"t":8.59,"s":887,"e":0.916},{"t":8.59,"s":844,"e":0.916},{"t":8.59,"s":800,"e":0.916},{"t":8.59,"s":757,"e":0.916},{"t":8.59,"s":713,"e":0.916},{"t":8.59,"s":670,"e":0.916},{"t":8.59,"s":626,"e":0.916},{"t":8.59,"s":583,"e":0.916},{"t":8.59,"s":539,"e":0.916},{"t":8.59,"s":496,"e":0.916},{"t":8.59,"s":452,"e":0.916},{"t":8.59,"s":409,"e":0.907},{"t":8.59,"s":365,"e":0.907},{"t":8.59,"s":322,"e":0.907},{"t":8.59,"s":279,"e":0.907},{"t":8.59,"s":235,"e":0.898},{"t":8.59,"s":192,"e":0.888},{"t":8.59,"s":148,"e":0.861},{"t":8.59,"s":105,"e":0.823},{"t":8.59,"s":61,"e":0.721},
{"t":8.97,"s":1713,"e":0.916},{"t":8.97,"s":1669,"e":0.916},{"t":8.97,"s":1626,"e":0.916},{"t":8.97,"s":1582,"e":0.916},{"t":8.97,"s":1539,"e":0.916},{"t":8.97,"s":1495,"e":0.916},{"t":8.97,"s":1452,"e":0.916},{"t":8.97,"s":1408,"e":0.916},{"t":8.97,"s":1365,"e":0.916},{"t":8.97,"s":1322,"e":0.916},{"t":8.97,"s":1278,"e":0.916},{"t":8.97,"s":1235,"e":0.916},{"t":8.97,"s":1191,"e":0.916},{"t":8.97,"s":1148,"e":0.916},{"t":8.97,"s":1104,"e":0.916},{"t":8.97,"s":1061,"e":0.916},{"t":8.97,"s":1017,"e":0.916},{"t":8.97,"s":974,"e":0.916},{"t":8.97,"s":930,"e":0.916},{"t":8.97,"s":887,"e":0.916},{"t":8.97,"s":844,"e":0.916},{"t":8.97,"s":800,"e":0.916},{"t":8.97,"s":757,"e":0.916},{"t":8.97,"s":713,"e":0.916},{"t":8.97,"s":670,"e":0.916},{"t":8.97,"s":626,"e":0.916},{"t":8.97,"s":583,"e":0.916},{"t":8.97,"s":539,"e":0.916},{"t":8.97,"s":496,"e":0.916},{"t":8.97,"s":452,"e":0.916},{"t":8.97,"s":409,"e":0.916},{"t":8.97,"s":365,"e":0.907},{"t":8.97,"s":322,"e":0.907},{"t":8.97,"s":279,"e":0.898},{"t":8.97,"s":235,"e":0.898},{"t":8.97,"s":192,"e":0.879},{"t":8.97,"s":148,"e":0.861},{"t":8.97,"s":105,"e":0.823},{"t":8.97,"s":61,"e":0.712},
{"t":9.35,"s":1713,"e":0.916},{"t":9.35,"s":1669,"e":0.916},{"t":9.35,"s":1626,"e":0.916},{"t":9.35,"s":1582,"e":0.916},{"t":9.35,"s":1539,"e":0.916},{"t":9.35,"s":1495,"e":0.916},{"t":9.35,"s":1452,"e":0.916},{"t":9.35,"s":1408,"e":0.916},{"t":9.35,"s":1365,"e":0.916},{"t":9.35,"s":1322,"e":0.916},{"t":9.35,"s":1278,"e":0.916},{"t":9.35,"s":1235,"e":0.916},{"t":9.35,"s":1191,"e":0.916},{"t":9.35,"s":1148,"e":0.916},{"t":9.35,"s":1104,"e":0.916},{"t":9.35,"s":1061,"e":0.916},{"t":9.35,"s":1017,"e":0.916},{"t":9.35,"s":974,"e":0.916},{"t":9.35,"s":930,"e":0.916},{"t":9.35,"s":887,"e":0.916},{"t":9.35,"s":844,"e":0.916},{"t":9.35,"s":800,"e":0.916},{"t":9.35,"s":757,"e":0.916},{"t":9.35,"s":713,"e":0.916},{"t":9.35,"s":670,"e":0.916},{"t":9.35,"s":626,"e":0.916},{"t":9.35,"s":583,"e":0.916},{"t":9.35,"s":539,"e":0.916},{"t":9.35,"s":496,"e":0.916},{"t":9.35,"s":452,"e":0.916},{"t":9.35,"s":409,"e":0.916},{"t":9.35,"s":365,"e":0.907},{"t":9.35,"s":322,"e":0.907},{"t":9.35,"s":279,"e":0.898},{"t":9.35,"s":235,"e":0.898},{"t":9.35,"s":192,"e":0.879},{"t":9.35,"s":148,"e":0.861},{"t":9.35,"s":105,"e":0.814},{"t":9.35,"s":61,"e":0.703},
{"t":9.73,"s":1713,"e":0.916},{"t":9.73,"s":1669,"e":0.916},{"t":9.73,"s":1626,"e":0.916},{"t":9.73,"s":1582,"e":0.925},{"t":9.73,"s":1539,"e":0.925},{"t":9.73,"s":1495,"e":0.925},{"t":9.73,"s":1452,"e":0.925},{"t":9.73,"s":1408,"e":0.925},{"t":9.73,"s":1365,"e":0.925},{"t":9.73,"s":1322,"e":0.925},{"t":9.73,"s":1278,"e":0.925},{"t":9.73,"s":1235,"e":0.925},{"t":9.73,"s":1191,"e":0.925},{"t":9.73,"s":1148,"e":0.925},{"t":9.73,"s":1104,"e":0.925},{"t":9.73,"s":1061,"e":0.925},{"t":9.73,"s":1017,"e":0.925},{"t":9.73,"s":974,"e":0.925},{"t":9.73,"s":930,"e":0.925},{"t":9.73,"s":887,"e":0.916},{"t":9.73,"s":844,"e":0.916},{"t":9.73,"s":800,"e":0.916},{"t":9.73,"s":757,"e":0.916},{"t":9.73,"s":713,"e":0.916},{"t":9.73,"s":670,"e":0.916},{"t":9.73,"s":626,"e":0.916},{"t":9.73,"s":583,"e":0.916},{"t":9.73,"s":539,"e":0.916},{"t":9.73,"s":496,"e":0.916},{"t":9.73,"s":452,"e":0.916},{"t":9.73,"s":409,"e":0.916},{"t":9.73,"s":365,"e":0.907},{"t":9.73,"s":322,"e":0.907},{"t":9.73,"s":279,"e":0.898},{"t":9.73,"s":235,"e":0.888},{"t":9.73,"s":192,"e":0.879},{"t":9.73,"s":148,"e":0.851},{"t":9.73,"s":105,"e":0.814},{"t":9.73,"s":61,"e":0.694},
{"t":10.12,"s":1713,"e":0.925},{"t":10.12,"s":1669,"e":0.925},{"t":10.12,"s":1626,"e":0.925},{"t":10.12,"s":1582,"e":0.925},{"t":10.12,"s":1539,"e":0.925},{"t":10.12,"s":1495,"e":0.925},{"t":10.12,"s":1452,"e":0.925},{"t":10.12,"s":1408,"e":0.925},{"t":10.12,"s":1365,"e":0.925},{"t":10.12,"s":1322,"e":0.925},{"t":10.12,"s":1278,"e":0.925},{"t":10.12,"s":1235,"e":0.925},{"t":10.12,"s":1191,"e":0.925},{"t":10.12,"s":1148,"e":0.925},{"t":10.12,"s":1104,"e":0.925},{"t":10.12,"s":1061,"e":0.925},{"t":10.12,"s":1017,"e":0.925},{"t":10.12,"s":974,"e":0.925},{"t":10.12,"s":930,"e":0.925},{"t":10.12,"s":887,"e":0.925},{"t":10.12,"s":844,"e":0.925},{"t":10.12,"s":800,"e":0.925},{"t":10.12,"s":757,"e":0.916},{"t":10.12,"s":713,"e":0.916},{"t":10.12,"s":670,"e":0.916},{"t":10.12,"s":626,"e":0.916},{"t":10.12,"s":583,"e":0.916},{"t":10.12,"s":539,"e":0.916},{"t":10.12,"s":496,"e":0.916},{"t":10.12,"s":452,"e":0.916},{"t":10.12,"s":409,"e":0.916},{"t":10.12,"s":365,"e":0.907},{"t":10.12,"s":322,"e":0.907},{"t":10.12,"s":279,"e":0.898},{"t":10.12,"s":235,"e":0.888},{"t":10.12,"s":192,"e":0.879},{"t":10.12,"s":148,"e":0.851},{"t":10.12,"s":105,"e":0.805},{"t":10.12,"s":61,"e":0.694},
{"t":10.5,"s":1713,"e":0.925},{"t":10.5,"s":1669,"e":0.925},{"t":10.5,"s":1626,"e":0.925},{"t":10.5,"s":1582,"e":0.925},{"t":10.5,"s":1539,"e":0.925},{"t":10.5,"s":1495,"e":0.925},{"t":10.5,"s":1452,"e":0.925},{"t":10.5,"s":1408,"e":0.925},{"t":10.5,"s":1365,"e":0.925},{"t":10.5,"s":1322,"e":0.925},{"t":10.5,"s":1278,"e":0.925},{"t":10.5,"s":1235,"e":0.925},{"t":10.5,"s":1191,"e":0.925},{"t":10.5,"s":1148,"e":0.925},{"t":10.5,"s":1104,"e":0.925},{"t":10.5,"s":1061,"e":0.925},{"t":10.5,"s":1017,"e":0.925},{"t":10.5,"s":974,"e":0.925},{"t":10.5,"s":930,"e":0.925},{"t":10.5,"s":887,"e":0.925},{"t":10.5,"s":844,"e":0.925},{"t":10.5,"s":800,"e":0.925},{"t":10.5,"s":757,"e":0.925},{"t":10.5,"s":713,"e":0.925},{"t":10.5,"s":670,"e":0.916},{"t":10.5,"s":626,"e":0.916},{"t":10.5,"s":583,"e":0.916},{"t":10.5,"s":539,"e":0.916},{"t":10.5,"s":496,"e":0.916},{"t":10.5,"s":452,"e":0.916},{"t":10.5,"s":409,"e":0.916},{"t":10.5,"s":365,"e":0.907},{"t":10.5,"s":322,"e":0.907},{"t":10.5,"s":279,"e":0.898},{"t":10.5,"s":235,"e":0.888},{"t":10.5,"s":192,"e":0.87},{"t":10.5,"s":148,"e":0.851},{"t":10.5,"s":105,"e":0.805},{"t":10.5,"s":61,"e":0.684},
{"t":10.88,"s":1713,"e":0.925},{"t":10.88,"s":1669,"e":0.925},{"t":10.88,"s":1626,"e":0.925},{"t":10.88,"s":1582,"e":0.925},{"t":10.88,"s":1539,"e":0.925},{"t":10.88,"s":1495,"e":0.925},{"t":10.88,"s":1452,"e":0.925},{"t":10.88,"s":1408,"e":0.925},{"t":10.88,"s":1365,"e":0.925},{"t":10.88,"s":1322,"e":0.925},{"t":10.88,"s":1278,"e":0.925},{"t":10.88,"s":1235,"e":0.925},{"t":10.88,"s":1191,"e":0.925},{"t":10.88,"s":1148,"e":0.925},{"t":10.88,"s":1104,"e":0.925},{"t":10.88,"s":1061,"e":0.925},{"t":10.88,"s":1017,"e":0.925},{"t":10.88,"s":974,"e":0.925},{"t":10.88,"s":930,"e":0.925},{"t":10.88,"s":887,"e":0.925},{"t":10.88,"s":844,"e":0.925},{"t":10.88,"s":800,"e":0.925},{"t":10.88,"s":757,"e":0.925},{"t":10.88,"s":713,"e":0.925},{"t":10.88,"s":670,"e":0.925},{"t":10.88,"s":626,"e":0.916},{"t":10.88,"s":583,"e":0.916},{"t":10.88,"s":539,"e":0.916},{"t":10.88,"s":496,"e":0.916},{"t":10.88,"s":452,"e":0.916},{"t":10.88,"s":409,"e":0.916},{"t":10.88,"s":365,"e":0.907},{"t":10.88,"s":322,"e":0.907},{"t":10.88,"s":279,"e":0.898},{"t":10.88,"s":235,"e":0.888},{"t":10.88,"s":192,"e":0.87},{"t":10.88,"s":148,"e":0.842},{"t":10.88,"s":105,"e":0.796},{"t":10.88,"s":61,"e":0.675},
{"t":11.26,"s":1713,"e":0.925},{"t":11.26,"s":1669,"e":0.925},{"t":11.26,"s":1626,"e":0.925},{"t":11.26,"s":1582,"e":0.925},{"t":11.26,"s":1539,"e":0.925},{"t":11.26,"s":1495,"e":0.925},{"t":11.26,"s":1452,"e":0.925},{"t":11.26,"s":1408,"e":0.925},{"t":11.26,"s":1365,"e":0.925},{"t":11.26,"s":1322,"e":0.925},{"t":11.26,"s":1278,"e":0.925},{"t":11.26,"s":1235,"e":0.925},{"t":11.26,"s":1191,"e":0.925},{"t":11.26,"s":1148,"e":0.925},{"t":11.26,"s":1104,"e":0.925},{"t":11.26,"s":1061,"e":0.925},{"t":11.26,"s":1017,"e":0.925},{"t":11.26,"s":974,"e":0.925},{"t":11.26,"s":930,"e":0.925},{"t":11.26,"s":887,"e":0.925},{"t":11.26,"s":844,"e":0.925},{"t":11.26,"s":800,"e":0.925},{"t":11.26,"s":757,"e":0.925},{"t":11.26,"s":713,"e":0.925},{"t":11.26,"s":670,"e":0.925},{"t":11.26,"s":626,"e":0.916},{"t":11.26,"s":583,"e":0.916},{"t":11.26,"s":539,"e":0.916},{"t":11.26,"s":496,"e":0.916},{"t":11.26,"s":452,"e":0.916},{"t":11.26,"s":409,"e":0.916},{"t":11.26,"s":365,"e":0.907},{"t":11.26,"s":322,"e":0.907},{"t":11.26,"s":279,"e":0.898},{"t":11.26,"s":235,"e":0.888},{"t":11.26,"s":192,"e":0.87},{"t":11.26,"s":148,"e":0.842},{"t":11.26,"s":105,"e":0.796},{"t":11.26,"s":61,"e":0.666},
{"t":11.64,"s":1713,"e":0.925},{"t":11.64,"s":1669,"e":0.925},{"t":11.64,"s":1626,"e":0.925},{"t":11.64,"s":1582,"e":0.925},{"t":11.64,"s":1539,"e":0.925},{"t":11.64,"s":1495,"e":0.925},{"t":11.64,"s":1452,"e":0.925},{"t":11.64,"s":1408,"e":0.925},{"t":11.64,"s":1365,"e":0.925},{"t":11.64,"s":1322,"e":0.925},{"t":11.64,"s":1278,"e":0.925},{"t":11.64,"s":1235,"e":0.925},{"t":11.64,"s":1191,"e":0.925},{"t":11.64,"s":1148,"e":0.925},{"t":11.64,"s":1104,"e":0.925},{"t":11.64,"s":1061,"e":0.925},{"t":11.64,"s":1017,"e":0.925},{"t":11.64,"s":974,"e":0.925},{"t":11.64,"s":930,"e":0.925},{"t":11.64,"s":887,"e":0.925},{"t":11.64,"s":844,"e":0.925},{"t":11.64,"s":800,"e":0.925},{"t":11.64,"s":757,"e":0.925},{"t":11.64,"s":713,"e":0.925},{"t":11.64,"s":670,"e":0.925},{"t":11.64,"s":626,"e":0.925},{"t":11.64,"s":583,"e":0.916},{"t":11.64,"s":539,"e":0.916},{"t":11.64,"s":496,"e":0.916},{"t":11.64,"s":452,"e":0.916},{"t":11.64,"s":409,"e":0.907},{"t":11.64,"s":365,"e":0.907},{"t":11.64,"s":322,"e":0.898},{"t":11.64,"s":279,"e":0.898},{"t":11.64,"s":235,"e":0.888},{"t":11.64,"s":192,"e":0.87},{"t":11.64,"s":148,"e":0.842},{"t":11.64,"s":105,"e":0.786},{"t":11.64,"s":61,"e":0.657},
{"t":12.02,"s":1713,"e":0.935},{"t":12.02,"s":1669,"e":0.935},{"t":12.02,"s":1626,"e":0.935},{"t":12.02,"s":1582,"e":0.935},{"t":12.02,"s":1539,"e":0.935},{"t":12.02,"s":1495,"e":0.935},{"t":12.02,"s":1452,"e":0.935},{"t":12.02,"s":1408,"e":0.935},{"t":12.02,"s":1365,"e":0.935},{"t":12.02,"s":1322,"e":0.935},{"t":12.02,"s":1278,"e":0.935},{"t":12.02,"s":1235,"e":0.935},{"t":12.02,"s":1191,"e":0.935},{"t":12.02,"s":1148,"e":0.935},{"t":12.02,"s":1104,"e":0.925},{"t":12.02,"s":1061,"e":0.925},{"t":12.02,"s":1017,"e":0.925},{"t":12.02,"s":974,"e":0.925},{"t":12.02,"s":930,"e":0.925},{"t":12.02,"s":887,"e":0.925},{"t":12.02,"s":844,"e":0.925},{"t":12.02,"s":800,"e":0.925},{"t":12.02,"s":757,"e":0.925},{"t":12.02,"s":713,"e":0.925},{"t":12.02,"s":670,"e":0.925},{"t":12.02,"s":626,"e":0.925},{"t":12.02,"s":583,"e":0.916},{"t":12.02,"s":539,"e":0.916},{"t":12.02,"s":496,"e":0.916},{"t":12.02,"s":452,"e":0.916},{"t":12.02,"s":409,"e":0.907},{"t":12.02,"s":365,"e":0.907},{"t":12.02,"s":322,"e":0.898},{"t":12.02,"s":279,"e":0.898},{"t":12.02,"s":235,"e":0.879},{"t":12.02,"s":192,"e":0.861},{"t":12.02,"s":148,"e":0.833},{"t":12.02,"s":105,"e":0.786},{"t":12.02,"s":61,"e":0.657},
{"t":12.41,"s":1713,"e":0.935},{"t":12.41,"s":1669,"e":0.935},{"t":12.41,"s":1626,"e":0.935},{"t":12.41,"s":1582,"e":0.935},{"t":12.41,"s":1539,"e":0.935},{"t":12.41,"s":1495,"e":0.935},{"t":12.41,"s":1452,"e":0.935},{"t":12.41,"s":1408,"e":0.935},{"t":12.41,"s":1365,"e":0.935},{"t":12.41,"s":1322,"e":0.935},{"t":12.41,"s":1278,"e":0.935},{"t":12.41,"s":1235,"e":0.935},{"t":12.41,"s":1191,"e":0.935},{"t":12.41,"s":1148,"e":0.935},{"t":12.41,"s":1104,"e":0.935},{"t":12.41,"s":1061,"e":0.935},{"t":12.41,"s":1017,"e":0.925},{"t":12.41,"s":974,"e":0.925},{"t":12.41,"s":930,"e":0.925},{"t":12.41,"s":887,"e":0.925},{"t":12.41,"s":844,"e":0.925},{"t":12.41,"s":800,"e":0.925},{"t":12.41,"s":757,"e":0.925},{"t":12.41,"s":713,"e":0.925},{"t":12.41,"s":670,"e":0.925},{"t":12.41,"s":626,"e":0.925},{"t":12.41,"s":583,"e":0.916},{"t":12.41,"s":539,"e":0.916},{"t":12.41,"s":496,"e":0.916},{"t":12.41,"s":452,"e":0.916},{"t":12.41,"s":409,"e":0.907},{"t":12.41,"s":365,"e":0.907},{"t":12.41,"s":322,"e":0.898},{"t":12.41,"s":279,"e":0.888},{"t":12.41,"s":235,"e":0.879},{"t":12.41,"s":192,"e":0.861},{"t":12.41,"s":148,"e":0.833},{"t":12.41,"s":105,"e":0.777},{"t":12.41,"s":61,"e":0.647},
{"t":12.79,"s":1713,"e":0.935},{"t":12.79,"s":1669,"e":0.935},{"t":12.79,"s":1626,"e":0.935},{"t":12.79,"s":1582,"e":0.935},{"t":12.79,"s":1539,"e":0.935},{"t":12.79,"s":1495,"e":0.935},{"t":12.79,"s":1452,"e":0.935},{"t":12.79,"s":1408,"e":0.935},{"t":12.79,"s":1365,"e":0.935},{"t":12.79,"s":1322,"e":0.935},{"t":12.79,"s":1278,"e":0.935},{"t":12.79,"s":1235,"e":0.935},{"t":12.79,"s":1191,"e":0.935},{"t":12.79,"s":1148,"e":0.935},{"t":12.79,"s":1104,"e":0.935},{"t":12.79,"s":1061,"e":0.935},{"t":12.79,"s":1017,"e":0.935},{"t":12.79,"s":974,"e":0.925},{"t":12.79,"s":930,"e":0.925},{"t":12.79,"s":887,"e":0.925},{"t":12.79,"s":844,"e":0.925},{"t":12.79,"s":800,"e":0.925},{"t":12.79,"s":757,"e":0.925},{"t":12.79,"s":713,"e":0.925},{"t":12.79,"s":670,"e":0.925},{"t":12.79,"s":626,"e":0.925},{"t":12.79,"s":583,"e":0.916},{"t":12.79,"s":539,"e":0.916},{"t":12.79,"s":496,"e":0.916},{"t":12.79,"s":452,"e":0.916},{"t":12.79,"s":409,"e":0.907},{"t":12.79,"s":365,"e":0.907},{"t":12.79,"s":322,"e":0.898},{"t":12.79,"s":279,"e":0.888},{"t":12.79,"s":235,"e":0.879},{"t":12.79,"s":192,"e":0.861},{"t":12.79,"s":148,"e":0.833},{"t":12.79,"s":105,"e":0.777},{"t":12.79,"s":61,"e":0.638},
{"t":13.17,"s":1713,"e":0.935},{"t":13.17,"s":1669,"e":0.935},{"t":13.17,"s":1626,"e":0.935},{"t":13.17,"s":1582,"e":0.935},{"t":13.17,"s":1539,"e":0.935},{"t":13.17,"s":1495,"e":0.935},{"t":13.17,"s":1452,"e":0.935},{"t":13.17,"s":1408,"e":0.935},{"t":13.17,"s":1365,"e":0.935},{"t":13.17,"s":1322,"e":0.935},{"t":13.17,"s":1278,"e":0.935},{"t":13.17,"s":1235,"e":0.935},{"t":13.17,"s":1191,"e":0.935},{"t":13.17,"s":1148,"e":0.935},{"t":13.17,"s":1104,"e":0.935},{"t":13.17,"s":1061,"e":0.935},{"t":13.17,"s":1017,"e":0.935},{"t":13.17,"s":974,"e":0.935},{"t":13.17,"s":930,"e":0.925},{"t":13.17,"s":887,"e":0.925},{"t":13.17,"s":844,"e":0.925},{"t":13.17,"s":800,"e":0.925},{"t":13.17,"s":757,"e":0.925},{"t":13.17,"s":713,"e":0.925},{"t":13.17,"s":670,"e":0.925},{"t":13.17,"s":626,"e":0.925},{"t":13.17,"s":583,"e":0.916},{"t":13.17,"s":539,"e":0.916},{"t":13.17,"s":496,"e":0.916},{"t":13.17,"s":452,"e":0.916},{"t":13.17,"s":409,"e":0.907},{"t":13.17,"s":365,"e":0.907},{"t":13.17,"s":322,"e":0.898},{"t":13.17,"s":279,"e":0.888},{"t":13.17,"s":235,"e":0.879},{"t":13.17,"s":192,"e":0.861},{"t":13.17,"s":148,"e":0.823},{"t":13.17,"s":105,"e":0.768},{"t":13.17,"s":61,"e":0.638},
{"t":13.55,"s":1713,"e":0.935},{"t":13.55,"s":1669,"e":0.935},{"t":13.55,"s":1626,"e":0.935},{"t":13.55,"s":1582,"e":0.935},{"t":13.55,"s":1539,"e":0.935},{"t":13.55,"s":1495,"e":0.935},{"t":13.55,"s":1452,"e":0.935},{"t":13.55,"s":1408,"e":0.935},{"t":13.55,"s":1365,"e":0.935},{"t":13.55,"s":1322,"e":0.935},{"t":13.55,"s":1278,"e":0.935},{"t":13.55,"s":1235,"e":0.935},{"t":13.55,"s":1191,"e":0.935},{"t":13.55,"s":1148,"e":0.935},{"t":13.55,"s":1104,"e":0.935},{"t":13.55,"s":1061,"e":0.935},{"t":13.55,"s":1017,"e":0.935},{"t":13.55,"s":974,"e":0.935},{"t":13.55,"s":930,"e":0.935},{"t":13.55,"s":887,"e":0.925},{"t":13.55,"s":844,"e":0.925},{"t":13.55,"s":800,"e":0.925},{"t":13.55,"s":757,"e":0.925},{"t":13.55,"s":713,"e":0.925},{"t":13.55,"s":670,"e":0.925},{"t":13.55,"s":626,"e":0.925},{"t":13.55,"s":583,"e":0.916},{"t":13.55,"s":539,"e":0.916},{"t":13.55,"s":496,"e":0.916},{"t":13.55,"s":452,"e":0.916},{"t":13.55,"s":409,"e":0.907},{"t":13.55,"s":365,"e":0.907},{"t":13.55,"s":322,"e":0.898},{"t":13.55,"s":279,"e":0.888},{"t":13.55,"s":235,"e":0.879},{"t":13.55,"s":192,"e":0.851},{"t":13.55,"s":148,"e":0.823},{"t":13.55,"s":105,"e":0.768},{"t":13.55,"s":61,"e":0.629},
{"t":13.93,"s":1713,"e":0.935},{"t":13.93,"s":1669,"e":0.935},{"t":13.93,"s":1626,"e":0.935},{"t":13.93,"s":1582,"e":0.935},{"t":13.93,"s":1539,"e":0.935},{"t":13.93,"s":1495,"e":0.935},{"t":13.93,"s":1452,"e":0.935},{"t":13.93,"s":1408,"e":0.935},{"t":13.93,"s":1365,"e":0.935},{"t":13.93,"s":1322,"e":0.935},{"t":13.93,"s":1278,"e":0.935},{"t":13.93,"s":1235,"e":0.935},{"t":13.93,"s":1191,"e":0.935},{"t":13.93,"s":1148,"e":0.935},{"t":13.93,"s":1104,"e":0.935},{"t":13.93,"s":1061,"e":0.935},{"t":13.93,"s":1017,"e":0.935},{"t":13.93,"s":974,"e":0.935},{"t":13.93,"s":930,"e":0.935},{"t":13.93,"s":887,"e":0.925},{"t":13.93,"s":844,"e":0.925},{"t":13.93,"s":800,"e":0.925},{"t":13.93,"s":757,"e":0.925},{"t":13.93,"s":713,"e":0.925},{"t":13.93,"s":670,"e":0.925},{"t":13.93,"s":626,"e":0.925},{"t":13.93,"s":583,"e":0.916},{"t":13.93,"s":539,"e":0.916},{"t":13.93,"s":496,"e":0.916},{"t":13.93,"s":452,"e":0.916},{"t":13.93,"s":409,"e":0.907},{"t":13.93,"s":365,"e":0.907},{"t":13.93,"s":322,"e":0.898},{"t":13.93,"s":279,"e":0.888},{"t":13.93,"s":235,"e":0.87},{"t":13.93,"s":192,"e":0.851},{"t":13.93,"s":148,"e":0.823},{"t":13.93,"s":105,"e":0.759},{"t":13.93,"s":61,"e":0.619},
{"t":14.31,"s":1713,"e":0.935},{"t":14.31,"s":1669,"e":0.935},{"t":14.31,"s":1626,"e":0.935},{"t":14.31,"s":1582,"e":0.935},{"t":14.31,"s":1539,"e":0.935},{"t":14.31,"s":1495,"e":0.935},{"t":14.31,"s":1452,"e":0.935},{"t":14.31,"s":1408,"e":0.935},{"t":14.31,"s":1365,"e":0.935},{"t":14.31,"s":1322,"e":0.935},{"t":14.31,"s":1278,"e":0.935},{"t":14.31,"s":1235,"e":0.935},{"t":14.31,"s":1191,"e":0.935},{"t":14.31,"s":1148,"e":0.935},{"t":14.31,"s":1104,"e":0.935},{"t":14.31,"s":1061,"e":0.935},{"t":14.31,"s":1017,"e":0.935},{"t":14.31,"s":974,"e":0.935},{"t":14.31,"s":930,"e":0.935},{"t":14.31,"s":887,"e":0.935},{"t":14.31,"s":844,"e":0.925},{"t":14.31,"s":800,"e":0.925},{"t":14.31,"s":757,"e":0.925},{"t":14.31,"s":713,"e":0.925},{"t":14.31,"s":670,"e":0.925},{"t":14.31,"s":626,"e":0.925},{"t":14.31,"s":583,"e":0.916},{"t":14.31,"s":539,"e":0.916},{"t":14.31,"s":496,"e":0.916},{"t":14.31,"s":452,"e":0.907},{"t":14.31,"s":409,"e":0.907},{"t":14.31,"s":365,"e":0.898},{"t":14.31,"s":322,"e":0.898},{"t":14.31,"s":279,"e":0.888},{"t":14.31,"s":235,"e":0.87},{"t":14.31,"s":192,"e":0.851},{"t":14.31,"s":148,"e":0.814},{"t":14.31,"s":105,"e":0.759},{"t":14.31,"s":61,"e":0.619},
{"t":14.7,"s":1713,"e":0.935},{"t":14.7,"s":1669,"e":0.935},{"t":14.7,"s":1626,"e":0.935},{"t":14.7,"s":1582,"e":0.935},{"t":14.7,"s":1539,"e":0.935},{"t":14.7,"s":1495,"e":0.935},{"t":14.7,"s":1452,"e":0.935},{"t":14.7,"s":1408,"e":0.935},{"t":14.7,"s":1365,"e":0.935},{"t":14.7,"s":1322,"e":0.935},{"t":14.7,"s":1278,"e":0.935},{"t":14.7,"s":1235,"e":0.935},{"t":14.7,"s":1191,"e":0.935},{"t":14.7,"s":1148,"e":0.935},{"t":14.7,"s":1104,"e":0.935},{"t":14.7,"s":1061,"e":0.935},{"t":14.7,"s":1017,"e":0.935},{"t":14.7,"s":974,"e":0.935},{"t":14.7,"s":930,"e":0.935},{"t":14.7,"s":887,"e":0.935},{"t":14.7,"s":844,"e":0.925},{"t":14.7,"s":800,"e":0.925},{"t":14.7,"s":757,"e":0.925},{"t":14.7,"s":713,"e":0.925},{"t":14.7,"s":670,"e":0.925},{"t":14.7,"s":626,"e":0.925},{"t":14.7,"s":583,"e":0.916},{"t":14.7,"s":539,"e":0.916},{"t":14.7,"s":496,"e":0.916},{"t":14.7,"s":452,"e":0.907},{"t":14.7,"s":409,"e":0.907},{"t":14.7,"s":365,"e":0.898},{"t":14.7,"s":322,"e":0.898},{"t":14.7,"s":279,"e":0.879},{"t":14.7,"s":235,"e":0.87},{"t":14.7,"s":192,"e":0.851},{"t":14.7,"s":148,"e":0.814},{"t":14.7,"s":105,"e":0.749},{"t":14.7,"s":61,"e":0.61},
{"t":15.08,"s":1713,"e":0.935},{"t":15.08,"s":1669,"e":0.935},{"t":15.08,"s":1626,"e":0.935},{"t":15.08,"s":1582,"e":0.935},{"t":15.08,"s":1539,"e":0.935},{"t":15.08,"s":1495,"e":0.935},{"t":15.08,"s":1452,"e":0.935},{"t":15.08,"s":1408,"e":0.935},{"t":15.08,"s":1365,"e":0.935},{"t":15.08,"s":1322,"e":0.935},{"t":15.08,"s":1278,"e":0.935},{"t":15.08,"s":1235,"e":0.935},{"t":15.08,"s":1191,"e":0.935},{"t":15.08,"s":1148,"e":0.935},{"t":15.08,"s":1104,"e":0.935},{"t":15.08,"s":1061,"e":0.935},{"t":15.08,"s":1017,"e":0.935},{"t":15.08,"s":974,"e":0.935},{"t":15.08,"s":930,"e":0.935},{"t":15.08,"s":887,"e":0.935},{"t":15.08,"s":844,"e":0.925},{"t":15.08,"s":800,"e":0.925},{"t":15.08,"s":757,"e":0.925},{"t":15.08,"s":713,"e":0.925},{"t":15.08,"s":670,"e":0.925},{"t":15.08,"s":626,"e":0.925},{"t":15.08,"s":583,"e":0.916},{"t":15.08,"s":539,"e":0.916},{"t":15.08,"s":496,"e":0.916},{"t":15.08,"s":452,"e":0.907},{"t":15.08,"s":409,"e":0.907},{"t":15.08,"s":365,"e":0.898},{"t":15.08,"s":322,"e":0.888},{"t":15.08,"s":279,"e":0.879},{"t":15.08,"s":235,"e":0.87},{"t":15.08,"s":192,"e":0.842},{"t":15.08,"s":148,"e":0.814},{"t":15.08,"s":105,"e":0.749},{"t":15.08,"s":61,"e":0.601}
],"levels":[{"e":0.351},{"e":0.36},{"e":0.369},{"e":0.378},{"e":0.388},{"e":0.397},{"e":0.406},{"e":0.416},{"e":0.425},{"e":0.434},{"e":0.443},{"e":0.453},{"e":0.462},{"e":0.471},{"e":0.48},{"e":0.49},{"e":0.499},{"e":0.508},{"e":0.517},{"e":0.527},{"e":0.536},{"e":0.545},{"e":0.555},{"e":0.564},{"e":0.573},{"e":0.582},{"e":0.592},{"e":0.601},{"e":0.61},{"e":0.619},{"e":0.629},{"e":0.638},{"e":0.647},{"e":0.657},{"e":0.666},{"e":0.675},{"e":0.684},{"e":0.694},{"e":0.703},{"e":0.712},{"e":0.721},{"e":0.731},{"e":0.74},{"e":0.749},{"e":0.759},{"e":0.768},{"e":0.777},{"e":0.786},{"e":0.796},{"e":0.805},{"e":0.814},{"e":0.823},{"e":0.833},{"e":0.842},{"e":0.851},{"e":0.861},{"e":0.87},{"e":0.879},{"e":0.888},{"e":0.898},{"e":0.907},{"e":0.916},{"e":0.925},{"e":0.935}]},"hconcat":[{"width":1683,"height":1421,"data":{"name":"cells"},"mark":{"type":"rect","width":45,"height":38,"clip":true},"encoding":{"x":{"field":"t","type":"quantitative","title":"Torque (Nm)","scale":{"domain":[0.386,15.27],"nice":false,"zero":false},"axis":{"values":[2,4,6,8,10,12,14],"domain":false,"labelPadding":19,"titlePadding":7,"titleFontSize":76,"labelFlush":false}},"y":{"field":"s","type":"quantitative","title":"Speed (rpm)","scale":{"domain":[39.6,1735],"nice":false,"zero":false},"axis":{"values":[200,400,600,800,1000,1200,1400,1600],"format":"d","domain":true,"domainColor":"black","domainWidth":2,"labelPadding":12,"titlePadding":29,"labelFlush":false,"zindex":1}},"color":{"field":"e","type":"quantitative","legend":null,"scale":{"type":"quantize","domain":[0.3455,0.9391],"range":["#000090","#0000a0","#0000b0","#0000c0","#0000d0","#0000e0","#0000f0","#0000ff","#0010ff","#0020ff","#0030ff","#0040ff","#0050ff","#0060ff","#0070ff","#0080ff","#008fff","#009fff","#00afff","#00bfff","#00cfff","#00dfff","#00efff","#00ffff","#10ffef","#20ffdf","#30ffcf","#40ffbf","#50ffaf","#60ff9f","#70ff8f","#80ff80","#8fff70","#9fff60","#afff50","#bfff40","#cfff30","#dfff20","#efff10","#ffff00","#ffef00","#ffdf00","#ffcf00","#ffbf00","#ffaf00","#ff9f00","#ff8f00","#ff8000","#ff7000","#ff6000","#ff5000","#ff4000","#ff3000","#ff2000","#ff1000","#ff0000","#ef0000","#df0000","#cf0000","#bf0000","#af0000","#9f0000","#8f0000","#800000"]}}}},{"width":93,"height":1421,"view":{"stroke":"black","strokeWidth":3},"data":{"name":"levels"},"encoding":{"x":{"datum":0,"type":"quantitative","scale":{"domain":[0,1],"nice":false},"axis":null},"x2":{"datum":1}},"layer":[{"mark":{"type":"rect","height":24.5,"clip":true},"encoding":{"y":{"field":"e","type":"quantitative","title":null,"scale":{"domain":[0.3455,0.9391],"nice":false,"zero":false},"axis":{"orient":"right","values":[0.4,0.5,0.6,0.7,0.8,0.9],"format":".1f","domain":false,"ticks":true,"tickSize":-16,"tickColor":"black","tickWidth":2,"labelPadding":29,"labelFlush":false,"zindex":1}},"color":{"field":"e","type":"quantitative","legend":null,"scale":{"type":"quantize","domain":[0.3455,0.9391],"range":["#000090","#0000a0","#0000b0","#0000c0","#0000d0","#0000e0","#0000f0","#0000ff","#0010ff","#0020ff","#0030ff","#0040ff","#0050ff","#0060ff","#0070ff","#0080ff","#008fff","#009fff","#00afff","#00bfff","#00cfff","#00dfff","#00efff","#00ffff","#10ffef","#20ffdf","#30ffcf","#40ffbf","#50ffaf","#60ff9f","#70ff8f","#80ff80","#8fff70","#9fff60","#afff50","#bfff40","#cfff30","#dfff20","#efff10","#ffff00","#ffef00","#ffdf00","#ffcf00","#ffbf00","#ffaf00","#ff9f00","#ff8f00","#ff8000","#ff7000","#ff6000","#ff5000","#ff4000","#ff3000","#ff2000","#ff1000","#ff0000","#ef0000","#df0000","#cf0000","#bf0000","#af0000","#9f0000","#8f0000","#800000"]}}}},{"mark":{"type":"rect","height":24.5,"opacity":0},"encoding":{"y":{"field":"e","type":"quantitative","title":null,"scale":{"domain":[0.3455,0.9391],"nice":false,"zero":false},"axis":{"orient":"left","values":[0.4,0.5,0.6,0.7,0.8,0.9],"labels":false,"domain":false,"ticks":true,"tickSize":-16,"tickColor":"black","tickWidth":2,"zindex":1}}}}],"resolve":{"axis":{"y":"independent"}}}]}
